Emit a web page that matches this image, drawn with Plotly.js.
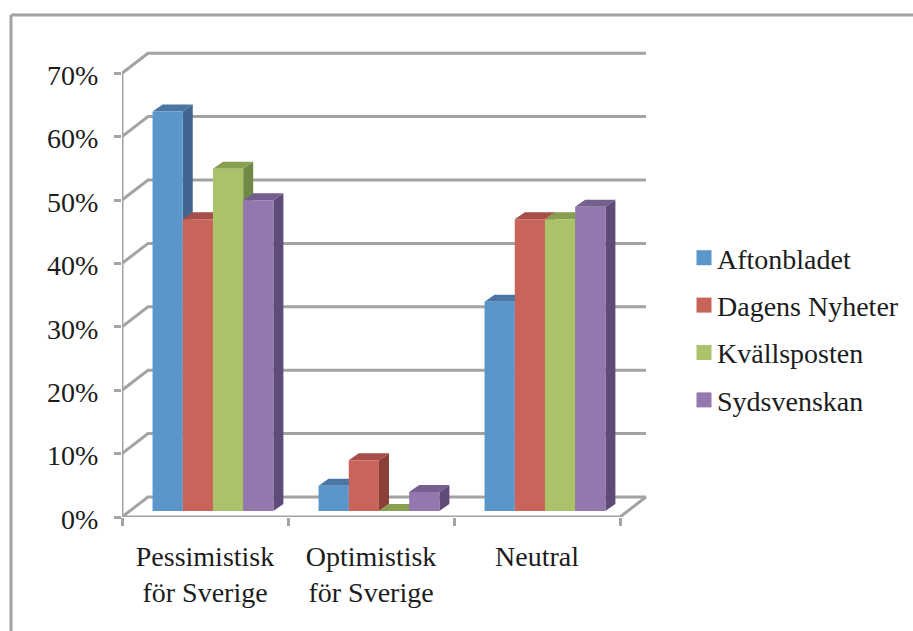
<!DOCTYPE html>
<html>
<head>
<meta charset="utf-8">
<script src="https://cdn.plot.ly/plotly-3.0.1.min.js"></script>
<style>html,body{margin:0;padding:0;background:#fff;overflow:hidden}</style>
</head>
<body>
<div id="chart" style="width:913px;height:631px"></div>
<script>
const categories = ["Pessimistisk<br>för Sverige", "Optimistisk<br>för Sverige", "Neutral"];
const seriesNames = ["Aftonbladet", "Dagens Nyheter", "Kvällsposten", "Sydsvenskan"];
const aftonbladet = [63, 4, 33];
const dagensNyheter = [46, 8, 46];
const kvallsposten = [54, 0, 46];
const sydsvenskan = [49, 3, 48];
const yTicks = [0, 10, 20, 30, 40, 50, 60, 70];
const frontColors = ["#5B96CB", "#C9645A", "#ABC26A", "#9278AF"];
const topColors = ["#4A76A4", "#A64F48", "#87A04F", "#755F8E"];
const sideColors = ["#42658F", "#8A4038", "#6F8A44", "#604B78"];

const seriesValues = [aftonbladet, dagensNyheter, kvallsposten, sydsvenskan];
const W = 913, H = 631, L = 122, T = 40, R = 650, B = 517;
const pxX = 166, pxY = 6.34;              // scale of the front plane
const wallDx = 26 / pxX, wallDy = 20 / pxY;
const barStart = 0.184, barW = 0.182, barBase = 6 / pxY;
const depthDx = 10 / pxX, depthDy = 7 / pxY;
const gridColor = "#A3A3A3", textColor = "#1c1c1c";
const lineW = 3;
const font = {family: '"Liberation Serif", serif', size: 28, color: textColor};

const traces = [];
// walls and floor
const gx = [], gy = [];
yTicks.forEach(v => {
  gx.push(0, wallDx, categories.length + wallDx, null);
  gy.push(v, v + wallDy, v + wallDy, null);
});
gx.push(0, 0, null, 0, categories.length, categories.length + wallDx);
gy.push(0, yTicks[yTicks.length - 1], null, 0, 0, wallDy);
traces.push({x: gx, y: gy, mode: "lines", line: {color: gridColor, width: lineW},
  hoverinfo: "skip", showlegend: false, cliponaxis: false});

function poly(color, group, xs, ys) {
  traces.push({x: xs, y: ys, mode: "lines", fill: "toself", fillcolor: color,
    line: {width: 0, color: color}, hoverinfo: "skip", showlegend: false,
    legendgroup: group, cliponaxis: false});
}
seriesValues.forEach((vals, s) => {
  const tx = [], ty = [], sx = [], sy = [], fx = [], fy = [];
  vals.forEach((v, c) => {
    const x0 = c + barStart + s * barW, x1 = x0 + barW;
    const y0 = barBase, y1 = v + barBase;
    tx.push(x0, x1, x1 + depthDx, x0 + depthDx, x0, null);
    ty.push(y1, y1, y1 + depthDy, y1 + depthDy, y1, null);
    sx.push(x1, x1 + depthDx, x1 + depthDx, x1, x1, null);
    sy.push(y0, y0 + depthDy, y1 + depthDy, y1, y0, null);
    fx.push(x0, x1, x1, x0, x0, null);
    fy.push(y0, y0, y1, y1, y0, null);
  });
  poly(sideColors[s], seriesNames[s], sx, sy);
  poly(topColors[s], seriesNames[s], tx, ty);
  poly(frontColors[s], seriesNames[s], fx, fy);
  traces.push({x: [null], y: [null], mode: "markers", name: seriesNames[s],
    legendgroup: seriesNames[s],
    marker: {symbol: "square", size: 15, color: frontColors[s]}, hoverinfo: "skip"});
});

const paperX = p => (p - L) / (R - L), paperY = p => (B - p) / (B - T);
const layout = {
  width: W, height: H,
  margin: {l: L, r: W - R, t: T, b: H - B, pad: 0, autoexpand: false},
  paper_bgcolor: "#fff", plot_bgcolor: "rgba(0,0,0,0)",
  font: font,
  showlegend: true,
  legend: {x: paperX(677), y: paperY(233), xanchor: "left", yanchor: "top",
    font: font, tracegroupgap: 8, bgcolor: "rgba(0,0,0,0)", itemclick: false, itemdoubleclick: false},
  xaxis: {range: [0, (R - L) / pxX], showgrid: false, zeroline: false, showline: false,
    tickmode: "array", tickvals: categories.map((_, i) => i + 0.5), ticktext: categories,
    ticks: "", tickfont: font, ticklabelstandoff: 20, tickangle: 0,
    minor: {tickmode: "array", tickvals: [0, 1, 2, 3], ticks: "outside", ticklen: 8,
      tickwidth: lineW, tickcolor: gridColor, showgrid: false}},
  yaxis: {range: [0, (B - T) / pxY], showgrid: false, zeroline: false, showline: false,
    tickmode: "array", tickvals: yTicks, ticktext: yTicks.map(v => v + "%"),
    ticks: "outside", ticklen: 7, tickwidth: lineW, tickcolor: gridColor,
    tickfont: font, ticklabelstandoff: 10, ticklabelshift: 2},
  shapes: [
    {type: "line", xref: "paper", yref: "paper", layer: "below",
      x0: paperX(11), x1: paperX(913), y0: paperY(15), y1: paperY(15),
      line: {color: gridColor, width: lineW}},
    {type: "line", xref: "paper", yref: "paper", layer: "below",
      x0: paperX(11), x1: paperX(11), y0: paperY(15), y1: paperY(631),
      line: {color: gridColor, width: lineW}}
  ]
};
Plotly.newPlot("chart", traces, layout, {displayModeBar: false, staticPlot: true}).then(gd => {
  // the library leaves a wide gap between key and label; close it as in the reference
  gd.querySelectorAll(".legendsymbols").forEach(n => n.setAttribute("transform", "translate(7,0)"));
});
</script>
</body>
</html>
